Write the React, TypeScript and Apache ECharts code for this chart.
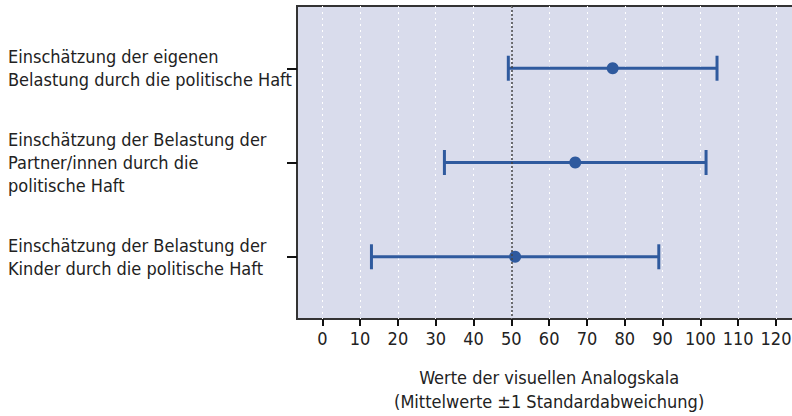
import React, { useEffect, useRef } from "react";
import * as echarts from "echarts";

const categories = [
  "Einschätzung der eigenen\nBelastung durch die politische Haft",
  "Einschätzung der Belastung der\nPartner/innen durch die\npolitische Haft",
  "Einschätzung der Belastung der\nKinder durch die politische Haft",
];
const means = [76.8, 66.9, 51.0];
const lows = [49.2, 32.3, 13.0];
const highs = [104.4, 101.5, 89.0];
const xMin = 0;
const xMax = 120;
const xStep = 10;
const referenceValue = 50;
const xTitle = "Werte der visuellen Analogskala\n(Mittelwerte ±1 Standardabweichung)";

const FONT = "'DejaVu Sans Condensed', 'Liberation Sans Narrow', sans-serif";
const BLUE = "#2f5a9e";
const TEXT = "#222";

export default function App() {
  const ref = useRef<HTMLDivElement>(null);
  useEffect(() => {
    document.body.style.margin = "0";
    const chart = echarts.init(ref.current!, undefined, { renderer: "svg" });
    const barData = categories.map((_, i) => [i, lows[i], highs[i]]);
    const meanData = categories.map((_, i) => [means[i], i]);
    chart.setOption({
      animation: false,
      textStyle: { fontFamily: FONT },
      grid: [
        { left: 322.3, top: 6, width: 453.7, height: 313, outerBoundsMode: "none", containLabel: false },
        {
          left: 297, top: 6, width: 520, height: 313, show: true,
          backgroundColor: "#d9dcec", borderColor: "#333", borderWidth: 2, z: -1,
          outerBoundsMode: "none", containLabel: false,
        },
        { left: 297, top: 21.15, width: 10, height: 282.9, outerBoundsMode: "none", containLabel: false },
      ],
      xAxis: [
        {
          gridIndex: 0, type: "value", min: xMin, max: xMax, interval: xStep,
          axisLine: { show: false, onZero: false },
          axisTick: { show: true, length: 7, lineStyle: { color: "#111", width: 2 } },
          axisLabel: { color: TEXT, fontSize: 18, margin: 10, fontFamily: FONT },
          splitLine: { show: true, lineStyle: { color: "#ffffff", type: [2, 4], width: 1 } },
          name: xTitle, nameLocation: "middle", nameGap: 46,
          nameTextStyle: { color: TEXT, fontSize: 18, lineHeight: 24, fontFamily: FONT },
        },
        { gridIndex: 1, type: "value", show: false },
        { gridIndex: 2, type: "value", show: false },
      ],
      yAxis: [
        {
          gridIndex: 0, type: "value", min: -0.66, max: 2.66, inverse: true,
          show: false,
        },
        { gridIndex: 1, type: "value", show: false },
        {
          gridIndex: 2, type: "category", data: categories, inverse: true,
          axisLine: { show: false },
          axisTick: { show: true, length: 10, alignWithLabel: true, lineStyle: { color: "#111", width: 2 } },
          axisLabel: {
            color: TEXT, fontSize: 18, lineHeight: 23, align: "left", margin: 289,
            fontFamily: FONT,
          },
          splitLine: { show: false },
        },
      ],
      series: [
        {
          type: "custom",
          xAxisIndex: 0, yAxisIndex: 0,
          data: barData,
          encode: { x: [1, 2], y: 0 },
          z: 3,
          renderItem: (params: any, api: any) => {
            const y = api.value(0);
            const p1 = api.coord([api.value(1), y]);
            const p2 = api.coord([api.value(2), y]);
            const h = 12.5;
            const style = { stroke: BLUE, lineWidth: 3, fill: "none" };
            return {
              type: "group",
              children: [
                { type: "line", shape: { x1: p1[0], y1: p1[1], x2: p2[0], y2: p2[1] }, style },
                { type: "line", shape: { x1: p1[0], y1: p1[1] - h, x2: p1[0], y2: p1[1] + h }, style },
                { type: "line", shape: { x1: p2[0], y1: p2[1] - h, x2: p2[0], y2: p2[1] + h }, style },
              ],
            };
          },
        },
        {
          type: "scatter",
          xAxisIndex: 0, yAxisIndex: 0,
          data: meanData,
          symbolSize: 12,
          itemStyle: { color: BLUE, opacity: 1 },
          z: 4,
          markLine: {
            silent: true,
            symbol: "none",
            label: { show: false },
            lineStyle: { color: "#444", type: [2, 2], width: 1.5 },
            data: [{ xAxis: referenceValue }],
          },
        },
      ],
    });
    return () => chart.dispose();
  }, []);
  return <div ref={ref} style={{ width: 792, height: 416 }} />;
}
